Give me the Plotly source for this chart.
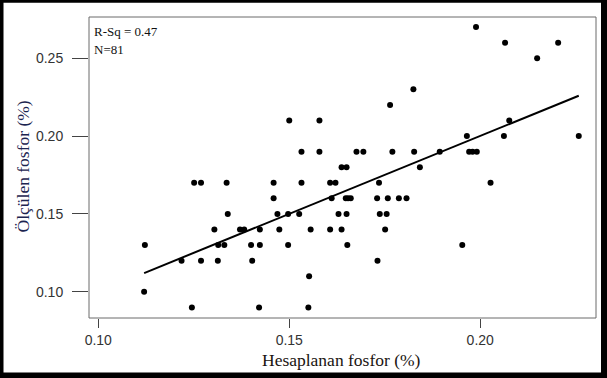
import numpy as np
import plotly.graph_objects as go

# Hesaplanan fosfor (%) grouped by Ölçülen fosfor (%) level
rows = {
    0.27: [0.1989],
    0.26: [0.2065, 0.2204],
    0.25: [0.2149],
    0.23: [0.1825],
    0.22: [0.1764],
    0.21: [0.1500, 0.1579, 0.2076],
    0.20: [0.1965, 0.2062, 0.2258],
    0.19: [0.1532, 0.1579, 0.1676, 0.1694, 0.1770, 0.1827, 0.1894, 0.1971, 0.1980, 0.1991],
    0.18: [0.1637, 0.1650, 0.1842],
    0.17: [0.1251, 0.1269, 0.1336, 0.1459, 0.1532, 0.1607, 0.1621, 0.1735, 0.2027],
    0.16: [0.1459, 0.1611, 0.1648, 0.1654, 0.1661, 0.1730, 0.1758, 0.1787, 0.1807],
    0.15: [0.1339, 0.1469, 0.1497, 0.1526, 0.1629, 0.1650, 0.1737, 0.1755],
    0.14: [0.1304, 0.1371, 0.1382, 0.1423, 0.1474, 0.1556, 0.1607, 0.1637, 0.1751],
    0.13: [0.1122, 0.1314, 0.1330, 0.1400, 0.1423, 0.1497, 0.1652, 0.1953],
    0.12: [0.1218, 0.1269, 0.1313, 0.1403, 0.1731],
    0.11: [0.1552],
    0.10: [0.1120],
    0.09: [0.1245, 0.1421, 0.1550],
}
hesaplanan = [x for yv, xs in rows.items() for x in xs]
olculen = [yv for yv, xs in rows.items() for x in xs]

x_ticks = [0.10, 0.15, 0.20]
y_ticks = [0.10, 0.15, 0.20, 0.25]
x_tick_labels = ["0.10", "0.15", "0.20"]
y_tick_labels = ["0.10", "0.15", "0.20", "0.25"]
rsq_text = "R-Sq = 0.47"
n_text = "N=81"

xa = np.array(hesaplanan)
ya = np.array(olculen)
slope, intercept = np.polyfit(xa, ya, 1)
fit_x = np.array([xa.min(), xa.max()])
fit_y = intercept + slope * fit_x

W, H = 607, 378
L, R, T, B = 89, 11, 17, 60
pw, ph = W - L - R, H - T - B

def px(x):
    return (x - L) / pw

def py(y):
    return (H - B - y) / ph

fig = go.Figure()
fig.add_trace(go.Scatter(x=fit_x, y=fit_y, mode="lines",
                         line=dict(color="black", width=2), hoverinfo="skip"))
fig.add_trace(go.Scatter(x=hesaplanan, y=olculen, mode="markers",
                         marker=dict(color="black", size=6)))

tickfont = dict(family="Liberation Sans, Arial, sans-serif", size=14, color="#333")
fig.update_layout(
    width=W, height=H,
    margin=dict(l=L, r=R, t=T, b=B),
    paper_bgcolor="white", plot_bgcolor="white",
    showlegend=False,
    xaxis=dict(range=[0.09757, 0.23031], tickvals=x_ticks, ticktext=x_tick_labels,
               showgrid=False, zeroline=False, showline=False,
               ticks="outside", ticklen=9, tickwidth=1, tickcolor="#444",
               tickfont=tickfont),
    yaxis=dict(range=[0.08318, 0.27646], tickvals=y_ticks, ticktext=y_tick_labels,
               showgrid=False, zeroline=False, showline=False,
               ticks="outside", ticklen=16, tickwidth=1, tickcolor="#444",
               tickfont=tickfont, ticklabelstandoff=6),
)

shapes = [
    dict(type="rect", xref="paper", yref="paper", x0=0, x1=1, y0=0, y1=1,
         line=dict(color="#6a6a6a", width=1), fillcolor="rgba(0,0,0,0)"),
    # outer black border
    dict(type="rect", xref="paper", yref="paper", x0=px(0), x1=px(3.5), y0=py(378), y1=py(0),
         line=dict(width=0), fillcolor="black"),
    dict(type="rect", xref="paper", yref="paper", x0=px(601), x1=px(607), y0=py(378), y1=py(0),
         line=dict(width=0), fillcolor="black"),
    dict(type="rect", xref="paper", yref="paper", x0=px(0), x1=px(607), y0=py(2.7), y1=py(0),
         line=dict(width=0), fillcolor="black"),
    dict(type="rect", xref="paper", yref="paper", x0=px(0), x1=px(607), y0=py(378), y1=py(372.5),
         line=dict(width=0), fillcolor="black"),
]
fig.update_layout(shapes=shapes)

serif = "Liberation Serif, Times New Roman, serif"
fig.add_annotation(text="Hesaplanan fosfor (%)", xref="paper", yref="paper",
                   x=px(341), y=py(360), xanchor="center", yanchor="middle",
                   showarrow=False, font=dict(family=serif, size=17.5, color="#1a1410"))
fig.add_annotation(text="Ölçülen fosfor (%)", xref="paper", yref="paper",
                   x=px(22), y=py(166.5), xanchor="center", yanchor="middle", textangle=-90,
                   showarrow=False, font=dict(family=serif, size=17.5, color="#1c2450"))
fig.add_annotation(text=rsq_text, xref="paper", yref="paper",
                   x=px(92), y=py(31.5), xanchor="left", yanchor="middle",
                   showarrow=False, font=dict(family=serif, size=13, color="#111"))
fig.add_annotation(text=n_text, xref="paper", yref="paper",
                   x=px(92), y=py(49), xanchor="left", yanchor="middle",
                   showarrow=False, font=dict(family=serif, size=13, color="#111"))

fig.write_html("out.html", config={"displayModeBar": False},
               post_script="document.body.style.margin='0';document.body.style.overflow='hidden';")
